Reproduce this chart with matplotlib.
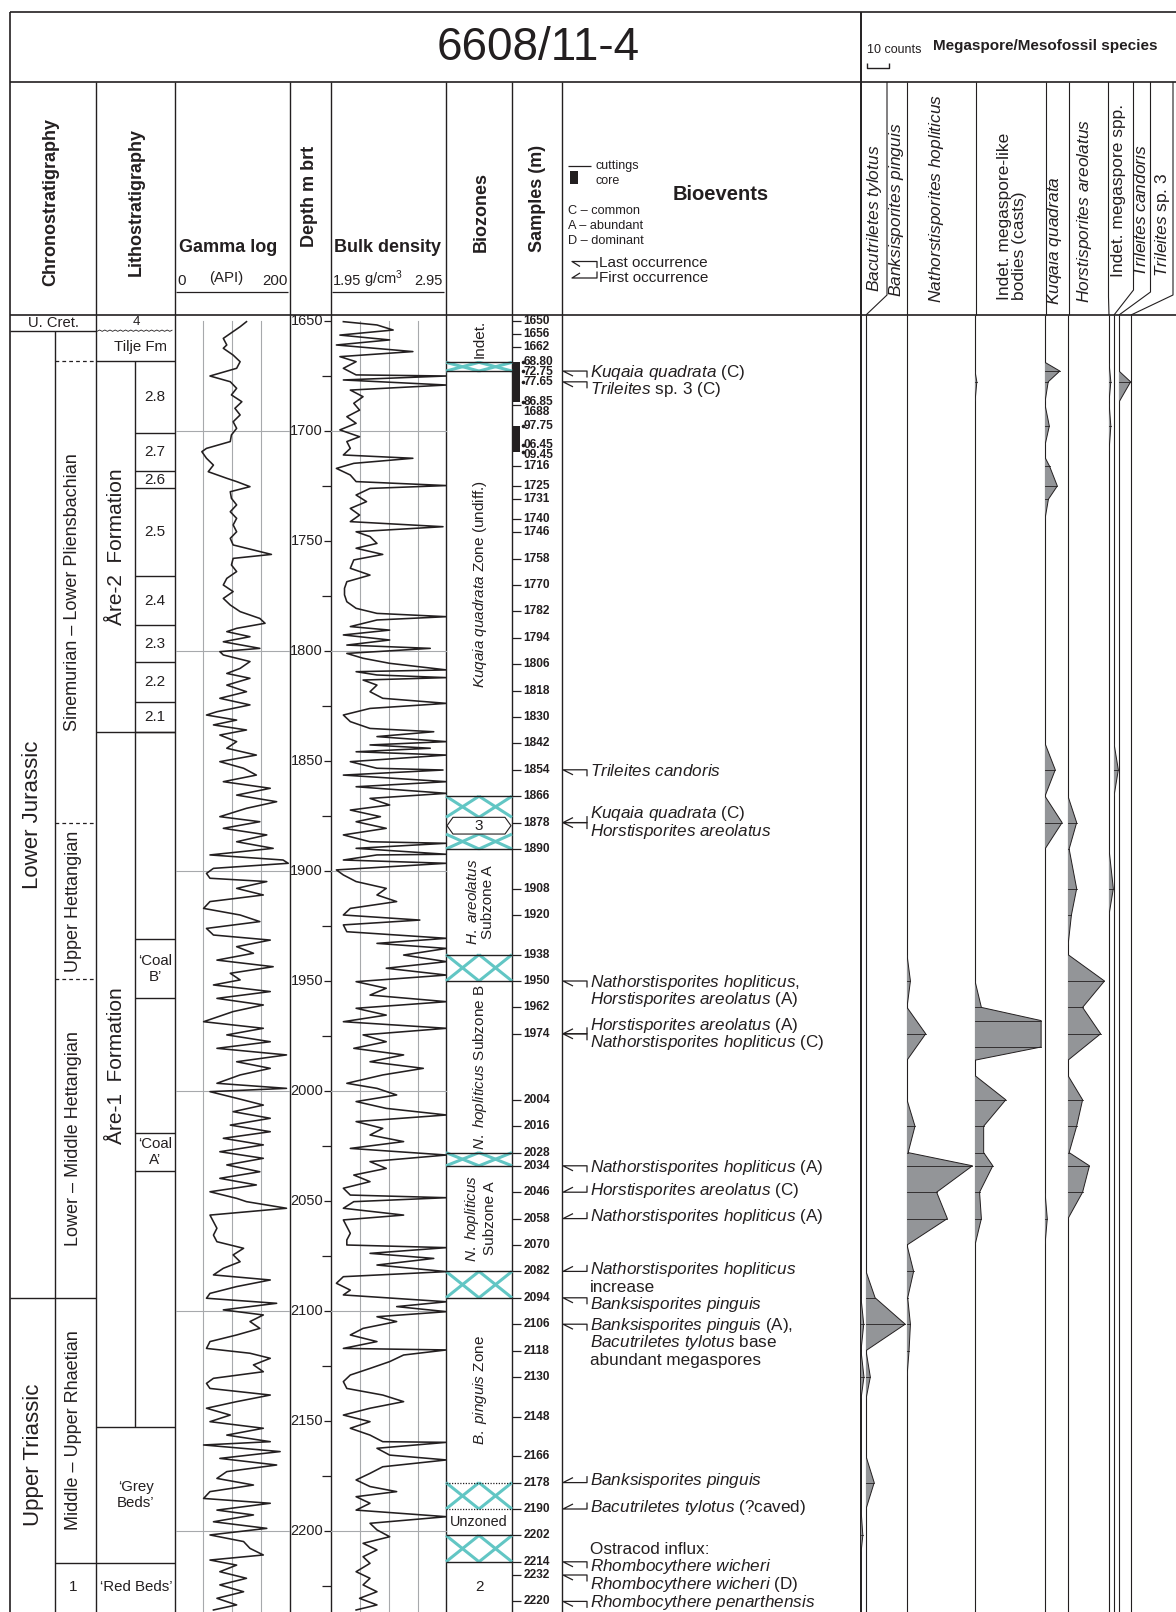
import numpy as np
import matplotlib.pyplot as plt
from matplotlib.patches import Rectangle, Polygon

plt.rcParams['font.family'] = ['Liberation Sans', 'DejaVu Sans']
plt.rcParams['mathtext.fontset'] = 'custom'
plt.rcParams['mathtext.rm'] = 'Liberation Sans'
plt.rcParams['mathtext.it'] = 'Liberation Sans:italic'
plt.rcParams['mathtext.bf'] = 'Liberation Sans:bold'

# ---------------- data read off the log ----------------
# gamma ray log (API) against depth (m)
gamma_depth = [1650.3, 1652.6, 1654.8, 1657.9, 1660.9, 1662.4, 1665.5, 1668.5, 1671.5, 1675.0,
               1677.6, 1680.6, 1683.6, 1686.7, 1689.7, 1692.7, 1695.8, 1698.8, 1701.8, 1704.8,
               1707.9, 1709.4, 1712.4, 1715.5, 1718.5, 1721.5, 1723.0, 1725.3, 1727.6, 1730.6,
               1733.6, 1736.7, 1739.7, 1742.7, 1745.8, 1748.8, 1751.8, 1756.1, 1757.9, 1760.9,
               1763.9, 1767.0, 1770.0, 1773.0, 1776.1, 1779.1, 1782.1, 1785.2, 1787.4, 1789.7,
               1791.2, 1793.5, 1795.8, 1798.8, 1800.3, 1801.8, 1804.8, 1807.9, 1810.2, 1812.4,
               1815.5, 1818.5, 1821.5, 1824.5, 1827.6, 1829.1, 1831.4, 1833.6, 1835.9, 1838.2,
               1841.2, 1844.2, 1847.3,
               1850.3, 1853.3, 1856.4, 1859.4, 1862.4, 1865.5, 1868.5, 1871.5, 1875.3, 1877.6,
               1880.6, 1883.6, 1886.7, 1889.7, 1892.7, 1895.0, 1896.5, 1898.8, 1901.1, 1903.3,
               1904.8, 1907.9, 1910.9, 1913.9, 1917.0, 1920.0, 1923.0, 1926.1, 1929.1, 1931.4,
               1934.4, 1937.4, 1940.5, 1943.5, 1946.5, 1949.5, 1951.8, 1954.8, 1957.9, 1960.9,
               1963.9, 1968.5, 1971.5, 1974.5, 1977.6, 1980.6, 1983.6, 1986.7, 1989.7, 1992.7,
               1996.5, 1998.8, 2000.3, 2003.3, 2006.4, 2009.4, 2012.4, 2015.5, 2018.5, 2021.5,
               2024.5, 2027.6, 2030.6, 2033.6, 2036.7, 2039.7, 2042.7, 2045.8, 2048.8,
               2050.3, 2053.3, 2056.4, 2059.4, 2062.4, 2065.5, 2068.5, 2071.5, 2074.5, 2077.6,
               2080.6, 2083.6, 2085.9, 2088.9, 2092.0, 2094.2, 2096.5, 2099.5, 2101.8, 2104.8,
               2107.9, 2110.9, 2113.9, 2117.0, 2119.2, 2121.5, 2124.5, 2127.6, 2130.6, 2132.9,
               2135.2, 2138.2, 2141.2, 2144.2, 2147.3, 2150.3, 2153.3, 2156.4, 2159.4, 2160.9,
               2163.9, 2167.0, 2170.0, 2173.0, 2176.1, 2179.1, 2182.1, 2185.2, 2187.4, 2190.5,
               2192.7, 2195.8, 2198.8, 2201.8, 2204.8, 2207.9, 2210.9, 2213.2, 2215.5, 2218.5,
               2221.5, 2224.5, 2227.6, 2230.6, 2233.6, 2235.9]
gamma_api = [125, 114, 102, 85, 91, 85, 102, 114, 108, 62,
             97, 108, 99, 117, 105, 114, 102, 108, 99, 97,
             56, 48, 56, 68, 59, 91, 108, 131, 97, 99,
             108, 97, 108, 102, 108, 97, 102, 168, 102, 99,
             108, 91, 85, 102, 85, 97, 114, 148, 157, 108,
             91, 131, 85, 148, 79, 85, 131, 114, 91, 131,
             91, 125, 79, 131, 74, 56, 108, 68, 125, 79,
             108, 91, 142,
             79, 120, 142, 85, 166, 108, 177, 125, 79, 148,
             85, 160, 108, 171, 62, 188, 197, 68, 56, 62,
             160, 108, 154, 62, 51, 114, 148, 56, 68, 166,
             108, 137, 74, 171, 97, 114, 68, 166, 74, 154,
             102, 51, 154, 91, 166, 74, 194, 108, 166, 114,
             74, 194, 62, 108, 154, 102, 166, 97, 166, 85,
             154, 79, 154, 91, 148, 79, 142, 62, 108,
             125, 194, 62, 68, 74, 68, 74, 120, 102, 114,
             85, 68, 166, 108, 62, 56, 177, 85, 154, 131,
             148, 108, 62, 56, 131, 166, 137, 154, 68, 56,
             62, 166, 108, 56, 97, 62, 154, 91, 166, 51,
             183, 79, 177, 91, 74, 137, 62, 51, 166, 74,
             137, 68, 160, 62, 120, 131, 154, 62, 108, 79,
             125, 79, 120, 74, 108, 68]

# bulk density log (g/cm3) against depth (m)
dens_depth = [1650.3, 1651.8, 1654.1, 1656.4, 1658.6, 1660.9, 1663.9, 1666.2, 1668.5, 1671.5,
              1674.5, 1675.0, 1676.8, 1679.1, 1681.4, 1684.4, 1687.4, 1690.5, 1693.5, 1696.5,
              1699.5, 1702.6, 1704.8, 1707.9, 1710.9, 1712.4, 1714.7, 1717.0, 1720.0, 1723.0,
              1724.8, 1726.1, 1729.1, 1732.1, 1735.2, 1738.2, 1741.2, 1743.5, 1745.8, 1748.0,
              1751.1, 1753.3, 1756.1, 1758.6, 1762.4, 1765.5, 1768.5, 1771.5, 1774.5, 1777.6,
              1780.6, 1782.9, 1784.4, 1785.9, 1788.9, 1790.5, 1792.7, 1795.0, 1797.3, 1798.8,
              1801.1, 1803.3, 1805.6, 1808.6, 1809.4, 1810.9, 1812.1, 1813.2, 1815.5, 1818.5,
              1821.5, 1823.8, 1826.1, 1829.1, 1832.1, 1835.2, 1836.7, 1838.9, 1841.2, 1842.7,
              1844.2, 1845.8, 1847.3,
              1850.3, 1853.3, 1854.1, 1856.4, 1859.4, 1861.7, 1864.7, 1867.0, 1870.0, 1872.3,
              1875.3, 1877.6, 1880.6, 1883.6, 1886.7, 1887.4, 1889.7, 1892.4, 1892.7, 1895.0,
              1896.5, 1899.5, 1901.8, 1904.8, 1907.9, 1910.9, 1913.9, 1917.0, 1920.0, 1922.3,
              1924.5, 1927.6, 1930.6, 1932.9, 1935.2, 1938.2, 1941.2, 1944.2, 1947.3, 1950.3,
              1953.3, 1956.4, 1959.4, 1962.4, 1965.5, 1968.5, 1971.5, 1974.5, 1977.6, 1980.6,
              1983.6, 1986.7, 1989.7, 1992.7, 1996.5, 1998.8, 2001.8, 2004.8, 2007.9, 2010.9,
              2013.9, 2017.0, 2020.0, 2023.0, 2026.1, 2029.1, 2032.1, 2035.2, 2038.2, 2041.2,
              2044.2, 2047.3, 2048.5,
              2050.3, 2053.3, 2056.4, 2058.6, 2061.7, 2064.7, 2067.7, 2070.0, 2071.2, 2073.8,
              2076.1, 2079.1, 2082.1, 2084.4, 2087.4, 2090.5, 2092.7, 2095.8, 2098.0, 2100.3,
              2102.6, 2104.8, 2107.9, 2110.9, 2113.9, 2117.0, 2117.7, 2120.0, 2123.0, 2126.1,
              2129.1, 2132.1, 2135.2, 2138.2, 2141.2, 2144.2, 2147.3, 2150.3, 2153.3, 2156.4,
              2159.4, 2159.7, 2162.4, 2165.5, 2167.7, 2170.8, 2173.8, 2176.8, 2179.8, 2182.1,
              2184.4, 2187.4, 2190.5, 2193.5, 2196.5, 2199.5, 2202.6, 2205.6, 2208.6, 2211.7,
              2214.7, 2218.5, 2221.5, 2224.5, 2227.6, 2230.6, 2233.6, 2235.9]
dens_gcc = [2.06, 2.35, 2.49, 2.03, 2.46, 2.00, 2.66, 2.03, 2.17, 2.06,
            2.17, 2.95, 2.06, 2.95, 2.12, 2.23, 2.15, 2.20, 2.09, 2.17,
            2.03, 2.20, 2.09, 2.12, 2.06, 2.66, 2.15, 2.00, 2.12, 2.17,
            2.95, 2.29, 2.17, 2.26, 2.12, 2.20, 2.12, 2.92, 2.17, 2.29,
            2.35, 2.17, 2.40, 2.15, 2.12, 2.29, 2.09, 2.07, 2.07, 2.09,
            2.17, 2.35, 2.95, 2.35, 2.12, 2.46, 2.06, 2.46, 2.09, 2.81,
            2.09, 2.23, 2.46, 2.95, 2.17, 2.35, 2.95, 2.23, 2.35, 2.29,
            2.40, 2.95, 2.29, 2.06, 2.12, 2.29, 2.84, 2.35, 2.95, 2.29,
            2.81, 2.17, 2.95,
            2.12, 2.35, 2.92, 2.06, 2.95, 2.17, 2.95, 2.29, 2.46, 2.12,
            2.38, 2.17, 2.43, 2.06, 2.29, 2.95, 2.17, 2.95, 2.35, 2.06,
            2.95, 2.00, 2.06, 2.17, 2.43, 2.35, 2.52, 2.12, 2.06, 2.72,
            2.06, 2.09, 2.95, 2.35, 2.95, 2.58, 2.95, 2.43, 2.95, 2.17,
            2.43, 2.29, 2.95, 2.17, 2.43, 2.06, 2.95, 2.23, 2.43, 2.15,
            2.58, 2.29, 2.75, 2.40, 2.09, 2.35, 2.52, 2.17, 2.43, 2.95,
            2.17, 2.40, 2.29, 2.58, 2.12, 2.95, 2.29, 2.43, 2.15, 2.29,
            2.06, 2.12, 2.95,
            2.15, 2.06, 2.58, 2.06, 2.09, 2.12, 2.09, 2.09, 2.95, 2.29,
            2.84, 2.35, 2.95, 2.06, 2.00, 2.12, 2.06, 2.95, 2.52, 2.95,
            2.35, 2.52, 2.23, 2.12, 2.35, 2.06, 2.95, 2.58, 2.46, 2.29,
            2.12, 2.06, 2.09, 2.40, 2.58, 2.29, 2.06, 2.29, 2.12, 2.29,
            2.40, 2.95, 2.35, 2.46, 2.95, 2.40, 2.29, 2.17, 2.29, 2.52,
            2.17, 2.29, 2.17, 2.95, 2.29, 2.35, 2.46, 2.23, 2.35, 2.23,
            2.29, 2.17, 2.29, 2.23, 2.35, 2.20, 2.35, 2.17]

depth_labels = [1650, 1700, 1750, 1800, 1850, 1900, 1950, 2000, 2050, 2100, 2150, 2200]
depth_minor = [1675, 1725, 1775, 1825, 1875, 1925, 1975, 2025, 2075, 2125, 2175, 2225]

# samples
sample_depth = [1650, 1656, 1662, 1668.80, 1672.75, 1677.65, 1686.85, 1688, 1697.75, 1706.45,
                1709.45, 1716, 1725, 1731, 1740, 1746, 1758, 1770, 1782, 1794, 1806, 1818,
                1830, 1842, 1854, 1866, 1878, 1890, 1908, 1920, 1938, 1950, 1962, 1974, 2004,
                2016, 2028, 2034, 2046, 2058, 2070, 2082, 2094, 2106, 2118, 2130, 2148, 2166,
                2178, 2190, 2202, 2214, 2220, 2232]
sample_label = ['1650', '1656', '1662', '68.80', '72.75', '77.65', '86.85', '1688', '97.75', '06.45',
                '09.45', '1716', '1725', '1731', '1740', '1746', '1758', '1770', '1782', '1794',
                '1806', '1818', '1830', '1842', '1854', '1866', '1878', '1890', '1908', '1920',
                '1938', '1950', '1962', '1974', '2004', '2016', '2028', '2034', '2046', '2058',
                '2070', '2082', '2094', '2106', '2118', '2130', '2148', '2166', '2178', '2190',
                '2202', '2214', '2232', '2220']
core_depth = [1668.80, 1672.75, 1677.65, 1686.85, 1697.75, 1706.45, 1709.45]
core_top = [1668.80, 1697.75]
core_base = [1686.85, 1709.45]

# chronostratigraphy
chrono_main = ['Lower Jurassic', 'Upper Triassic']
chrono_main_top = [1654.7, 2094.0]
chrono_sub = ['Sinemurian – Lower Pliensbachian', 'Upper Hettangian',
              'Lower – Middle Hettangian', 'Middle – Upper Rhaetian', '1']
chrono_sub_top = [1668.4, 1878.4, 1949.2, 2094.0, 2214.5]
chrono_sub_dashed = [1668.4, 1878.4, 1949.2]

# lithostratigraphy
litho_fm = ['Åre-2  Formation', 'Åre-1  Formation']
litho_fm_top = [1668.4, 1836.6]
litho_fm_base = [1836.6, 2152.6]
are2_units = ['2.8', '2.7', '2.6', '2.5', '2.4', '2.3', '2.2', '2.1']
are2_tops = [1668.4, 1700.8, 1718.2, 1726.1, 1766.0, 1788.4, 1804.9, 1823.1, 1836.6]
coal_names = ['‘Coal\nB’', '‘Coal\nA’']
coal_top = [1931.0, 2019.3]
coal_base = [1957.9, 2036.4]
beds_names = ['‘Grey\nBeds’', '‘Red Beds’']
beds_top = [2152.6, 2214.5]

# biozones
hatch_top = [1668.8, 1866.0, 1938.0, 2028.0, 2082.0, 2178.0, 2202.0]
hatch_base = [1672.75, 1890.0, 1950.0, 2034.0, 2094.0, 2190.0, 2214.0]
zone_lines = [1668.8, 1672.75, 1866, 1890, 1938, 1950, 2028, 2034, 2082, 2094, 2202, 2214]
zone_dotted = [2178, 2190]
zone_names = [('', 'Indet.'), ('Kuqaia quadrata', 'Zone (undiff.)'), ('H. areolatus', '\nSubzone A'),
              ('N. hopliticus', 'Subzone B'), ('N. hopliticus', '\nSubzone A'), ('B. pinguis', 'Zone')]
zone_top = [1647.3, 1672.75, 1890, 1950, 2034, 2094]
zone_base = [1668.8, 1866, 1938, 2028, 2082, 2178]

# bioevents: depth, kind (LO last / FO first occurrence), text lines (italic part, plain part)
events = [
    (1672.75, 'LO', [('Kuqaia quadrata', '(C)')]),
    (1677.65, 'LO', [('Trileites', 'sp. 3 (C)')]),
    (1854, 'LO', [('Trileites candoris', '')]),
    (1878, 'FO', [('Kuqaia quadrata', '(C)')]),
    (1878, 'LO', [('Horstisporites areolatus', '')]),
    (1950, 'LO', [('Nathorstisporites hopliticus', ','), ('Horstisporites areolatus', '(A)')]),
    (1974, 'FO', [('Horstisporites areolatus', '(A)')]),
    (1974, 'LO', [('Nathorstisporites hopliticus', '(C)')]),
    (2034, 'LO', [('Nathorstisporites hopliticus', '(A)')]),
    (2046, 'FO', [('Horstisporites areolatus', '(C)')]),
    (2058, 'FO', [('Nathorstisporites hopliticus', '(A)')]),
    (2082, 'FO', [('Nathorstisporites hopliticus', ''), ('', 'increase')]),
    (2094, 'LO', [('Banksisporites pinguis', '')]),
    (2106, 'LO', [('Banksisporites pinguis', '(A),'), ('Bacutriletes tylotus', 'base'),
                  ('', 'abundant megaspores')]),
    (2178, 'FO', [('Banksisporites pinguis', '')]),
    (2190, 'FO', [('Bacutriletes tylotus', '(?caved)')]),
    (2214, 'LO', [('Rhombocythere wicheri', '')]),
    (2220, 'LO', [('Rhombocythere wicheri', '(D)')]),
    (2232, 'LO', [('Rhombocythere penarthensis', '')]),
]
ostracod_note = 'Ostracod influx:'

# megaspore / mesofossil counts
bac_tyl_depth = [2094, 2106, 2118, 2130, 2140, 2190, 2202, 2210]
bac_tyl_count = [0, 1.2, 0, 1.3, 0, 0, 0.8, 0]
ban_pin_depth = [2082, 2094, 2106, 2118, 2130, 2140, 2166, 2178, 2190]
ban_pin_count = [0, 4.0, 17.2, 0, 1.9, 0, 0, 3.6, 0]
nat_hop_depth = [1938, 1950, 1962, 1974, 1986, 2004, 2016, 2028, 2034, 2046, 2058, 2070, 2082,
                 2094, 2106, 2118, 2130]
nat_hop_count = [0, 1.5, 0, 8.2, 0, 0, 3.5, 0.5, 28.7, 13.0, 17.7, 0, 2.9, 0.3, 1.5, 0.9, 0]
ind_bod_depth = [1672.75, 1677.65, 1686.85, 1950, 1962, 1968, 1980, 1986, 1993, 2004, 2016, 2028,
                 2034, 2046, 2058, 2070]
ind_bod_count = [0, 0.8, 0, 0, 2.8, 29, 29, 0, 0, 13.5, 3.8, 3.8, 7.8, 2.0, 2.8, 0]
kuq_qua_depth = [1668.8, 1672.75, 1677.65, 1686.85, 1688, 1697.75, 1706.45, 1712, 1716, 1725,
                 1731, 1740, 1842, 1854, 1866, 1878, 1890, 2046, 2058, 2070]
kuq_qua_count = [0, 6.5, 1.4, 0, 0, 1.9, 0, 0, 2.0, 5.4, 1.5, 0, 0, 4.5, 0, 7.5, 0, 0, 1.0, 0]
hor_are_depth = [1866, 1878, 1890, 1908, 1920, 1934, 1938, 1950, 1962, 1974, 1986, 1993, 2004,
                 2016, 2028, 2034, 2046, 2058]
hor_are_count = [0, 3.8, 0.5, 3.8, 1.5, 0, 0, 16, 6.4, 14.3, 0, 0, 6.4, 3.8, 0.5, 9.4, 6.4, 0]
ind_spp_depth = [1668.8, 1677.65, 1686.85, 1697.75, 1709.45, 1890, 1908, 1920]
ind_spp_count = [0, 0.8, 0, 0.8, 0, 0, 1.9, 0]
tri_can_depth = [1842, 1854, 1866]
tri_can_count = [0, 1.9, 0]
tri_sp3_depth = [1672.75, 1677.65, 1686.85]
tri_sp3_count = [0, 5.1, 0]

# ---------------- layout ----------------
W, H = 1176, 1612
HDR = 315
PX_PER_M = 2.2
D_TOP = 1650 - (321 - HDR) / PX_PER_M
D_BOT = D_TOP + (H - HDR) / PX_PER_M
COUNT_PX = 2.28
INK = '#231f20'
GRID = '#a7a9ac'
TEAL = '#62c6c4'
FILL = '#939598'

fig = plt.figure(figsize=(W / 100, H / 100), dpi=100)


def add_ax(x0, x1, y0, y1):
    ax = fig.add_axes([x0 / W, 1 - y1 / H, (x1 - x0) / W, (y1 - y0) / H])
    ax.set_axis_off()
    return ax


def seg(ax, xs, ys, lw=1.0, color=INK, **kw):
    ax.plot(xs, ys, color=color, lw=lw, clip_on=False, solid_capstyle='butt', **kw)


def mixed(it, rm=''):
    s = ''
    if it:
        s = r'$\mathit{' + it.replace(' ', r'\ ') + '}$'
    if rm:
        if s and not (rm.startswith(',') or rm.startswith('\n')):
            s += ' '
        s += rm
    return s


hdr = add_ax(0, W, 0, HDR)
hdr.set_xlim(0, W)
hdr.set_ylim(HDR, 0)
body = add_ax(0, W, HDR, H)
body.set_xlim(0, W)
body.set_ylim(D_BOT, D_TOP)

COLS = [96, 175, 290, 331, 446, 512, 562]

# frame + header
seg(hdr, [10, W], [12, 12], 1.2)
seg(hdr, [10, W], [82, 82], 1.2)
seg(hdr, [10, W], [HDR, HDR], 1.2)
seg(hdr, [10, 10], [12, HDR], 1.2)
seg(hdr, [861, 861], [12, HDR], 1.4)
for x in COLS:
    seg(hdr, [x, x], [82, HDR], 1.0)
seg(body, [10, 10], [D_TOP, D_BOT], 1.2)
seg(body, [861, 861], [D_TOP, D_BOT], 1.4)
for x in COLS:
    seg(body, [x, x], [D_TOP, D_BOT], 1.0)

hdr.text(538, 48, '6608/11-4', fontsize=33, ha='center', va='center', color=INK)
hdr.text(867, 50, '10 counts', fontsize=9, ha='left', va='center', color=INK)
seg(hdr, [866.5, 866.5, 866.5 + 10 * COUNT_PX, 866.5 + 10 * COUNT_PX], [63, 68, 68, 63], 1.0)
hdr.text(933, 46, 'Megaspore/Mesofossil species', fontsize=11, fontweight='bold',
         ha='left', va='center', color=INK)

for x, y, s in [(51, 286, 'Chronostratigraphy'), (136, 276, 'Lithostratigraphy'),
                (310, 247, 'Depth m brt'), (481, 252, 'Biozones'), (537, 252, 'Samples (m)')]:
    hdr.text(x, y, s, rotation=90, fontsize=13, fontweight='bold', ha='center', va='bottom',
             color=INK)

hdr.text(228, 247, 'Gamma log', fontsize=13, fontweight='bold', ha='center', va='center', color=INK)
hdr.text(177, 281, '0', fontsize=10.8, ha='left', va='center', color=INK)
hdr.text(226, 278, '(API)', fontsize=10.8, ha='center', va='center', color=INK)
hdr.text(288, 281, '200', fontsize=10.8, ha='right', va='center', color=INK)
seg(hdr, [176, 288], [292, 292], 0.9)
hdr.text(388, 248, 'Bulk density', fontsize=13, fontweight='bold', ha='center', va='center', color=INK)
hdr.text(333, 281, '1.95', fontsize=10.5, ha='left', va='center', color=INK)
hdr.text(384, 279, 'g/cm$^3$', fontsize=10.5, ha='center', va='center', color=INK)
hdr.text(443, 281, '2.95', fontsize=10.5, ha='right', va='center', color=INK)
seg(hdr, [332, 444], [292, 292], 0.9)

# bioevents legend
seg(hdr, [568, 591], [165.5, 165.5], 0.9)
hdr.text(595, 165.5, 'cuttings', fontsize=9, ha='left', va='center', color=INK)
hdr.add_patch(Rectangle((570, 171), 7.5, 13, facecolor=INK, edgecolor='none'))
hdr.text(595, 181, 'core', fontsize=9, ha='left', va='center', color=INK)
for y, s in [(211, 'C – common'), (226, 'A – abundant'), (241, 'D – dominant')]:
    hdr.text(568, y, s, fontsize=9.2, ha='left', va='center', color=INK)
hdr.text(721, 194, 'Bioevents', fontsize=14.5, fontweight='bold', ha='center', va='center', color=INK)
seg(hdr, [580, 572, 597, 597], [266.5, 261.5, 261.5, 268], 0.9)
hdr.text(599, 263, 'Last occurrence', fontsize=11, ha='left', va='center', color=INK)
seg(hdr, [580, 572, 597, 597], [273, 278, 278, 271.5], 0.9)
hdr.text(599, 278, 'First occurrence', fontsize=11, ha='left', va='center', color=INK)

# species header: rotated names and the column lines that bend into the data columns
sp_hdr = [(874, 292, mixed('Bacutriletes tylotus')), (897, 297, mixed('Banksisporites pinguis')),
          (937, 303, mixed('Nathorstisporites hopliticus')),
          (1012, 300, 'Indet. megaspore-like\nbodies (casts)'),
          (1054, 305, mixed('Kuqaia quadrata')), (1084.5, 303, mixed('Horstisporites areolatus')),
          (1118, 277, 'Indet. megaspore spp.'), (1141.5, 277, mixed('Trileites candoris')),
          (1163, 277, mixed('Trileites', 'sp. 3'))]
for x, y, s in sp_hdr:
    hdr.text(x, y, s, rotation=90, fontsize=12.5, ha='center', va='bottom', multialignment='left',
             color=INK, linespacing=1.05)
for xs, ys in [([887, 887, 866], [82, 295, HDR]), ([907, 907], [82, HDR]),
               ([975.5, 975.5], [82, HDR]), ([1045.5, 1045.5], [82, HDR]),
               ([1068.5, 1068.5], [82, HDR]), ([1108.5, 1108.5, 1109], [82, 297, HDR]),
               ([1133.5, 1133.5, 1114], [82, 290, HDR]), ([1150.5, 1150.5, 1119], [82, 292, HDR]),
               ([1173, 1173, 1131], [82, 295, HDR])]:
    seg(hdr, xs, ys, 0.8)

# ---------------- chronostratigraphy ----------------
seg(body, [10, 96], [1654.7, 1654.7], 1.0)
body.text(53, 1651, 'U. Cret.', fontsize=10.6, ha='center', va='center', color=INK)
seg(body, [55, 55], [1654.7, D_BOT], 1.0)
main_bounds = chrono_main_top + [D_BOT]
for i, name in enumerate(chrono_main):
    if i > 0:
        seg(body, [10, 96], [main_bounds[i], main_bounds[i]], 1.0)
    body.text(33, (main_bounds[i] + main_bounds[i + 1]) / 2, name, rotation=90, fontsize=16,
              ha='center', va='center', color=INK)
sub_bounds = chrono_sub_top + [D_BOT]
for i, name in enumerate(chrono_sub):
    body.text(73, (sub_bounds[i] + sub_bounds[i + 1]) / 2, name,
              rotation=0 if name == '1' else 90, fontsize=13 if name != '1' else 11,
              ha='center', va='center', color=INK)
for d in chrono_sub_dashed:
    seg(body, [55, 96], [d, d], 0.9, linestyle=(0, (3, 2.5)))
seg(body, [55, 175], [2214.5, 2214.5], 1.0)

# ---------------- lithostratigraphy ----------------
zx = np.arange(97, 175, 2.6)
zy = 1654.7 - 0.6 * (np.arange(len(zx)) % 2)
seg(body, zx, zy, 0.6)
body.text(136, 1650.4, '4', fontsize=9.5, ha='center', va='center', color=INK)
body.text(140, 1661.6, 'Tilje Fm', fontsize=10.8, ha='center', va='center', color=INK)
seg(body, [96, 175], [1668.4, 1668.4], 1.0)
seg(body, [135, 135], [1668.4, 2152.6], 1.0)
for name, t, b in zip(litho_fm, litho_fm_top, litho_fm_base):
    seg(body, [96, 175], [b, b], 1.0)
    body.text(116, (t + b) / 2 - (6 if name.startswith('Åre-1') else 0), name, rotation=90,
              fontsize=15, ha='center', va='center', color=INK)
for i, u in enumerate(are2_units):
    seg(body, [135, 175], [are2_tops[i + 1], are2_tops[i + 1]], 1.0)
    body.text(155, (are2_tops[i] + are2_tops[i + 1]) / 2, u, fontsize=11, ha='center',
              va='center', color=INK)
for name, t, b in zip(coal_names, coal_top, coal_base):
    seg(body, [135, 175], [t, t], 1.0)
    seg(body, [135, 175], [b, b], 1.0)
    body.text(155, (t + b) / 2, name, fontsize=10.8, ha='center', va='center', color=INK,
              linespacing=1.15)
beds_bounds = beds_top + [D_BOT]
for i, name in enumerate(beds_names):
    body.text(136, (beds_bounds[i] + beds_bounds[i + 1]) / 2, name, fontsize=10.8, ha='center',
              va='center', color=INK, linespacing=1.15)

# ---------------- gamma log ----------------
gam = add_ax(174, 290, HDR, H)
gam.set_xlim(0, 200)
gam.set_ylim(D_BOT, D_TOP)
for g in [50, 100, 150]:
    gam.plot([g, g], [1650, D_BOT], color=GRID, lw=0.8)
for d in range(1700, 2201, 100):
    gam.plot([3, 200], [d, d], color=GRID, lw=0.8)
gam.plot(gamma_api, gamma_depth, color=INK, lw=1.15)

# ---------------- bulk density ----------------
den = add_ax(330.6, 446.5, HDR, H)
den.set_xlim(1.95, 2.95)
den.set_ylim(D_BOT, D_TOP)
for g in [2.2, 2.45, 2.7]:
    den.plot([g, g], [1650, D_BOT], color=GRID, lw=0.8)
for d in range(1700, 2201, 100):
    den.plot([1.95, 2.95], [d, d], color=GRID, lw=0.8)
den.plot(dens_gcc, dens_depth, color=INK, lw=1.15)

# ---------------- depth scale ----------------
for d in depth_labels:
    body.text(323, d, str(d), fontsize=10.5, ha='right', va='center', color=INK)
    seg(body, [324, 331], [d, d], 0.9)
for d in depth_minor:
    seg(body, [322, 331], [d, d], 0.9)

# ---------------- biozones ----------------
for t, b in zip(hatch_top, hatch_base):
    parts = [(t, b)]
    if t <= 1878 <= b:
        parts = [(t, 1875.6), (1883.2, b)]
    for pt, pb in parts:
        p = (512 - 446) / 2
        for k in range(2):
            x0 = 446 + k * p
            body.plot([x0, x0 + p], [pt, pb], color=TEAL, lw=2.2, solid_capstyle='butt')
            body.plot([x0 + p, x0], [pt, pb], color=TEAL, lw=2.2, solid_capstyle='butt')
    if t <= 1878 <= b:
        body.add_patch(Polygon([(447, 1879.4), (453, 1875.6), (505, 1875.6), (511, 1879.4),
                                (505, 1883.2), (453, 1883.2)], closed=True, facecolor='white',
                               edgecolor=INK, lw=0.8, zorder=3))
        body.text(479, 1879.6, '3', fontsize=11, ha='center', va='center', color=INK, zorder=4)
for d in zone_lines:
    seg(body, [446, 512], [d, d], 1.0)
for d in zone_dotted:
    seg(body, [446, 512], [d, d], 0.9, linestyle=(0, (1, 1.2)))
for (it, rm), t, b in zip(zone_names, zone_top, zone_base):
    body.text(480, (t + b) / 2, mixed(it, rm), rotation=90, fontsize=11, ha='center',
              va='center', multialignment='center', color=INK, linespacing=1.1)
body.text(479, 2196, 'Unzoned', fontsize=10.4, ha='center', va='center', color=INK)
body.text(479, 2225.6, '2', fontsize=11, ha='center', va='center', color=INK)

# ---------------- samples ----------------
for t, b in zip(core_top, core_base):
    body.add_patch(Rectangle((512, t), 7.5, b - t, facecolor=INK, edgecolor='none'))
prev = -1e9
for d, lab in zip(sample_depth, sample_label):
    if d in core_depth:
        body.plot([522.5], [d], 'o', ms=1.6, color=INK)
    else:
        seg(body, [512, 521], [d, d], 0.9)
    ly = max(d, prev + 4.3)
    prev = ly
    body.text(523.5, ly, lab, fontsize=8.6, fontweight='bold', ha='left', va='center', color=INK)

# ---------------- bioevents ----------------
BARB = 5 / PX_PER_M
TICK = 6.5 / PX_PER_M
LINE = 7.9
prev_end = -1e9
for i, (d, kind, lines) in enumerate(events):
    sgn = 1 if kind == 'LO' else -1
    seg(body, [573, 563, 587, 587], [d + sgn * BARB, d, d, d + sgn * TICK], 0.9)
    same_next = i + 1 < len(events) and events[i + 1][0] == d
    same_prev = i > 0 and events[i - 1][0] == d
    if same_next:
        ty = d - LINE / 2
    elif same_prev:
        ty = d + LINE / 2
    else:
        ty = max(d + (0.6 if kind == 'LO' else -0.8), prev_end + LINE)
    for j, (it, rm) in enumerate(lines):
        body.text(590, ty + j * LINE, mixed(it, rm), fontsize=12.3, ha='left', va='center',
                  color=INK)
    prev_end = ty + (len(lines) - 1) * LINE
    if d == 2190:
        body.text(590, 2208.3, ostracod_note, fontsize=12.3, ha='left', va='center', color=INK)
        prev_end = 2208.3

# ---------------- megaspore counts ----------------
SP_EDGES = [866, 907, 975, 1045, 1068, 1109, 1114, 1119, 1131]
for x in SP_EDGES:
    seg(body, [x, x], [D_TOP, D_BOT], 0.8)
species = [(861, bac_tyl_depth, bac_tyl_count), (866, ban_pin_depth, ban_pin_count),
           (907, nat_hop_depth, nat_hop_count), (975, ind_bod_depth, ind_bod_count),
           (1045, kuq_qua_depth, kuq_qua_count), (1068, hor_are_depth, hor_are_count),
           (1109, ind_spp_depth, ind_spp_count), (1114, tri_can_depth, tri_can_count),
           (1119, tri_sp3_depth, tri_sp3_count)]
for base, dep, cnt in species:
    ax = add_ax(base, W, HDR, H)
    ax.set_xlim(0, (W - base) / COUNT_PX)
    ax.set_ylim(D_BOT, D_TOP)
    ax.fill_betweenx(dep, 0, cnt, facecolor=FILL, edgecolor='none')
    ax.plot(cnt, dep, color=INK, lw=0.7)
    for d, c in zip(dep, cnt):
        if c > 0:
            ax.plot([0, c], [d, d], color=INK, lw=0.6)

fig.savefig('out.png', dpi=100)
